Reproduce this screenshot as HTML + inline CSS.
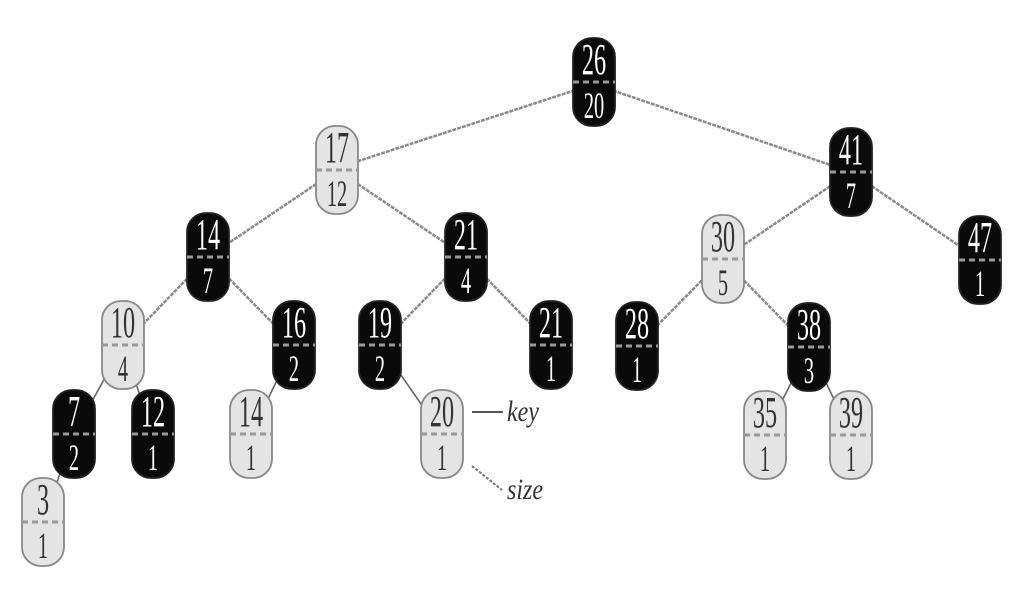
<!DOCTYPE html>
<html><head><meta charset="utf-8"><style>
html,body{margin:0;padding:0;background:#fff;width:1024px;height:615px;overflow:hidden}
svg{display:block}
text{font-family:"Liberation Serif",serif}
</style></head><body>
<svg width="1024" height="615" viewBox="0 0 1024 615" xmlns="http://www.w3.org/2000/svg">
<g stroke="#8a8a8a" stroke-width="2.5" stroke-dasharray="4,1">
<line x1="594" y1="84" x2="337" y2="168"/>
<line x1="594" y1="84" x2="851" y2="172"/>
<line x1="337" y1="170" x2="208" y2="257"/>
<line x1="337" y1="170" x2="466" y2="257"/>
<line x1="851" y1="172" x2="723" y2="259"/>
<line x1="851" y1="172" x2="980" y2="260"/>
<line x1="208" y1="257" x2="123" y2="345"/>
<line x1="208" y1="257" x2="294" y2="345"/>
<line x1="466" y1="257" x2="380" y2="345"/>
<line x1="466" y1="257" x2="551" y2="345"/>
<line x1="723" y1="259" x2="637" y2="346"/>
<line x1="723" y1="259" x2="809" y2="347"/>
</g>
<g stroke="#666" stroke-width="1.6">
<line x1="123" y1="345" x2="74" y2="434"/>
<line x1="123" y1="345" x2="153" y2="434"/>
<line x1="294" y1="345" x2="251" y2="434"/>
<line x1="380" y1="345" x2="442" y2="434"/>
<line x1="809" y1="347" x2="765" y2="435"/>
<line x1="809" y1="347" x2="851" y2="435"/>
<line x1="74" y1="434" x2="43" y2="522"/>
<line x1="472" y1="412" x2="503" y2="412" stroke="#555" stroke-width="2"/>
<line x1="472" y1="466" x2="502" y2="490" stroke="#777" stroke-width="2" stroke-dasharray="3,1.5"/>
</g>
<text transform="translate(507,421) scale(0.8,1)" font-size="30" font-style="italic" fill="#333">key</text>
<text transform="translate(507,499) scale(0.8,1)" font-size="30" font-style="italic" fill="#333">size</text>
<g id="nodes"></g>
</svg>
<script>
var N=[[594,82,26,20,1],[337,170,17,12,0],[851,172,41,7,1],[208,257,14,7,1],[466,257,21,4,1],[723,259,30,5,0],[980,260,47,1,1],
[123,345,10,4,0],[294,345,16,2,1],[380,345,19,2,1],[551,345,21,1,1],[637,346,28,1,1],[809,347,38,3,1],
[74,434,7,2,1],[153,434,12,1,1],[251,434,14,1,0],[442,434,20,1,0],[765,435,35,1,0],[851,435,39,1,0],[43,522,3,1,0]];
var g=document.getElementById('nodes'),s='';
N.forEach(function(n){var x=n[0],y=n[1],b=n[4];
var f=b?'#0a0a0a':'#e4e4e4',st=b?'#222':'#888',t=b?'#fff':'#333';
s+='<rect x="'+(x-21)+'" y="'+(y-44)+'" width="42" height="88" rx="19" fill="'+f+'" stroke="'+st+'" stroke-width="1.8"/>';
s+='<line x1="'+(x-21)+'" y1="'+y+'" x2="'+(x+21)+'" y2="'+y+'" stroke="#999" stroke-width="3" stroke-dasharray="6,4"/>';
s+='<text transform="translate('+x+','+(y-8)+') scale(0.55,1)" text-anchor="middle" font-size="44" fill="'+t+'">'+n[2]+'</text>';
s+='<text transform="translate('+x+','+(y+36)+') scale(0.55,1)" text-anchor="middle" font-size="37" fill="'+t+'">'+n[3]+'</text>';
});
g.innerHTML=s;
</script>
</body></html>
